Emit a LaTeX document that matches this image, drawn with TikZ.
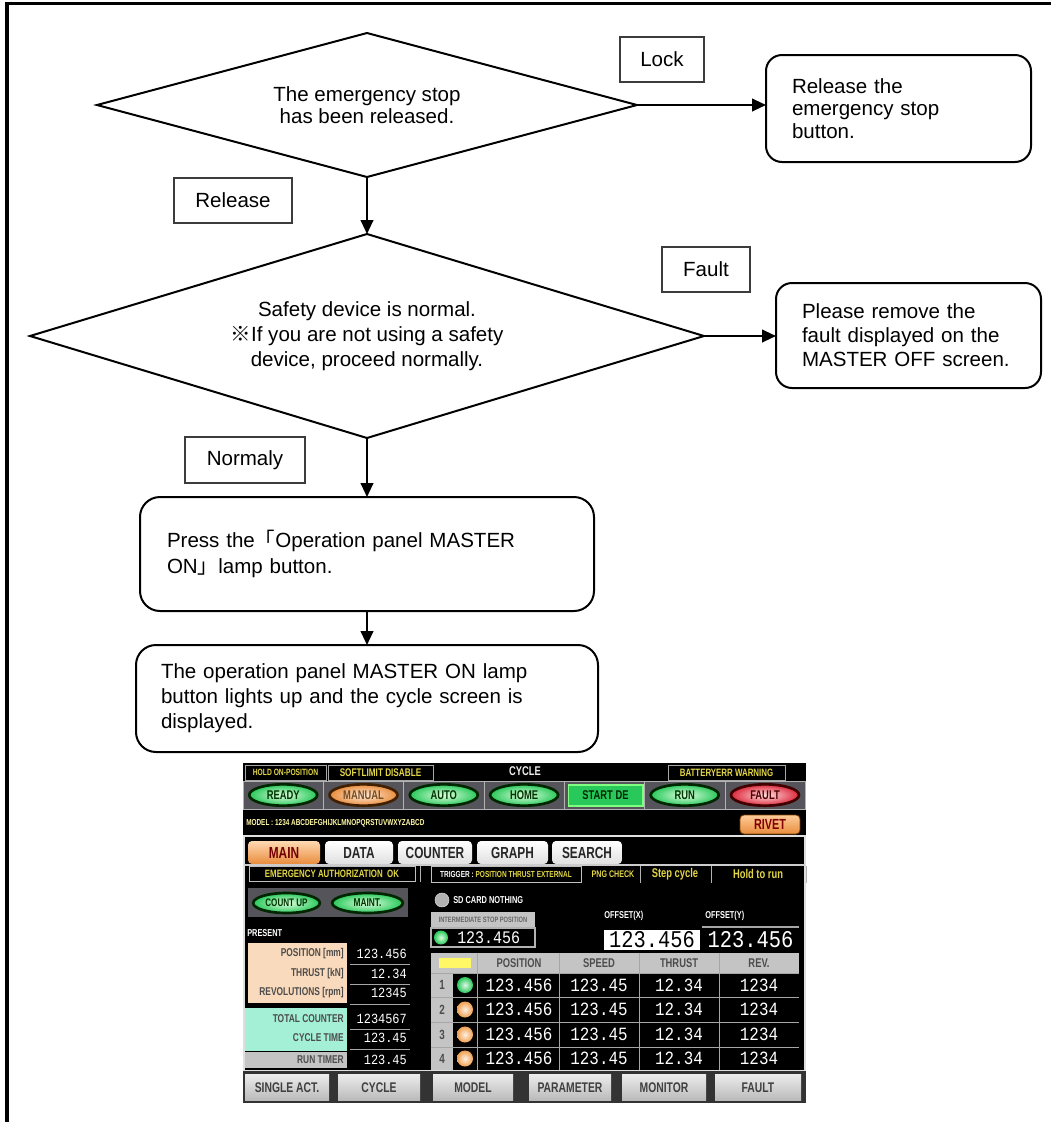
\documentclass[tikz,border=0pt]{standalone}
\usepackage{fontspec}
\setmainfont{Liberation Sans}
\newfontfamily\cjk{Noto Sans CJK JP}
\newfontfamily\scr{Liberation Sans}[FakeStretch=0.74]
\newfontfamily\scrnum{Liberation Mono}[FakeStretch=0.85]
\usetikzlibrary{shapes.geometric,arrows.meta}

\definecolor{lblgray}{RGB}{60,60,60}
\definecolor{cellgray}{RGB}{84,84,90}
\definecolor{hdrgray}{RGB}{196,196,196}
\definecolor{tabgray}{RGB}{224,224,224}
\definecolor{peach}{RGB}{250,218,188}
\definecolor{mint}{RGB}{164,240,214}
\definecolor{scryel}{RGB}{226,214,70}
\definecolor{btngreen}{RGB}{40,200,90}
\definecolor{btnorange}{RGB}{232,140,60}
\definecolor{lamporange}{RGB}{240,160,80}
\definecolor{btnred}{RGB}{220,40,60}

\begin{document}
\begin{tikzpicture}[x=0.75pt,y=0.75pt,yscale=-1,xscale=1,
    flowtxt/.style={font=\fontsize{15.4}{18.75}\selectfont},
    decision/.style={draw,line width=1.5pt,shape=diamond,inner sep=0pt,outer sep=0pt,align=center,flowtxt},
    stepbox/.style={draw,line width=1.5pt,rounded corners=12pt,align=left,inner xsep=19.5pt,inner ysep=0pt,outer sep=0pt,flowtxt},
    answer/.style={draw=lblgray,line width=0.8pt,inner sep=0pt,outer sep=0pt,flowtxt},
    flowarr/.style={line width=1.5pt,-{Triangle[length=10.5pt,width=9.5pt]}},
    stxt/.style={inner sep=0pt,font={\scr\bfseries\fontsize{#1}{#1}\selectfont}},
    snum/.style={inner sep=0pt,text=white,font={\scrnum\fontsize{#1}{#1}\selectfont}},
    lamp/.style={shape=ellipse,inner sep=0pt,minimum width=51pt,minimum height=16pt,line width=2pt,stxt=9.5},
    gbtn/.style={lamp,draw=green!15!black,inner color=green!12!white,outer color=btngreen,text=green!20!black},
    obtn/.style={lamp,draw=orange!25!black,inner color=orange!15!white,outer color=btnorange,text=brown!60!black},
    rbtn/.style={lamp,draw=red!25!black,inner color=red!12!white,outer color=btnred,text=red!30!black},
    tab/.style={rounded corners=3pt,inner sep=0pt,minimum height=17.25pt,stxt=12},
    sbox/.style={draw=gray!70,fill=black,inner sep=0pt,minimum height=11.5pt,text=scryel},
    fkey/.style={inner sep=0pt,minimum height=20pt,top color=gray!15,bottom color=gray!55,text=black!75,stxt=10.5}
  ]
  \useasboundingbox (0,0) rectangle (1051,1122);

  %Straight Lines: frame
  \draw[line width=2.4pt] (7,1122) -- (7,3.5) -- (1051,3.5);

  %Shape: Diamond
  \node[decision,minimum width=405pt,minimum height=108pt,aspect=3.75,font=\fontsize{15.4}{16.5}\selectfont] (stopchk) at (367,105) {The emergency stop\\has been released.};
  % Text Node
  \node[answer,minimum width=63pt,minimum height=33.75pt] (lock) at (662,59.5) {Lock};
  %Rounded Rect
  \node[stepbox,text width=159.75pt,minimum height=80.25pt,font=\fontsize{15.4}{17}\selectfont] (relbtn) at (898.5,108.5) {Release the\\emergency stop\\button.};
  % Text Node
  \node[answer,minimum width=88.5pt,minimum height=33.75pt] (release) at (233,200.5) {Release};

  %Shape: Diamond
  \node[decision,minimum width=505.5pt,minimum height=153pt,aspect=3.3] (safechk) at (367,336) {Safety device is normal.\\{\cjk ※}If you are not using a safety\\device, proceed normally.};
  % Text Node
  \node[answer,minimum width=66pt,minimum height=33.75pt] (fault) at (706,269.5) {Fault};
  %Rounded Rect
  \node[stepbox,text width=159.75pt,minimum height=78.75pt,font=\fontsize{15.4}{18}\selectfont] (faultbox) at (908.5,335.5) {Please remove the\\fault displayed on the\\MASTER OFF screen.};
  % Text Node
  \node[answer,minimum width=90pt,minimum height=34.5pt] (normaly) at (245,460) {Normaly};

  %Rounded Rect
  \node[stepbox,rounded corners=15pt,text width=300pt,inner xsep=20.25pt,minimum height=85.5pt,font=\fontsize{15.4}{20}\selectfont] (pressbtn) at (367,554) {Press the{\cjk 「}Operation panel MASTER\\ON{\cjk 」}lamp button.};
  %Rounded Rect
  \node[stepbox,rounded corners=15pt,text width=309pt,inner xsep=18.75pt,minimum height=80.25pt] (cyclebox) at (367,698.5) {The operation panel MASTER ON lamp\\button lights up and the cycle screen is\\displayed.};

  %Straight Lines
  \draw[flowarr] (stopchk.east) -- (stopchk.east -| relbtn.west);
  \draw[flowarr] (stopchk.south) -- (safechk.north);
  \draw[flowarr] (safechk.east) -- (safechk.east -| faultbox.west);
  \draw[flowarr] (safechk.south) -- (pressbtn.north);
  \draw[flowarr] (pressbtn.south) -- (cyclebox.north);

  %Screen: cycle screen
  \fill[black] (243,763) rectangle (806,1103);
  % status bar
  \node[sbox,minimum width=60.75pt,stxt=6.8] (holdpos) at (285.5,772.5) {HOLD ON-POSITION};
  \node[sbox,minimum width=78.75pt,stxt=8.3] (softlim) at (380.5,772.5) {SOFTLIMIT DISABLE};
  \node[stxt=9.5,text=gray!15] (mode) at (525,771) {CYCLE};
  \node[sbox,minimum width=87.75pt,stxt=8] (battery) at (726.5,772.5) {BATTERYERR WARNING};
  % lamp buttons
  \foreach \i in {0,...,6}
    \draw[draw=gray!60,fill=cellgray] ({243+80.3*\i},781) rectangle ++(80.3,28);
  \node[gbtn] (ready) at (283.2,795) {READY};
  \node[obtn] (manual) at (363.5,795) {MANUAL};
  \node[gbtn] (auto) at (443.8,795) {AUTO};
  \node[gbtn] (home) at (524.1,795) {HOME};
  \node[draw=green!50!white,line width=1pt,fill=btngreen,minimum width=56pt,minimum height=15.75pt,stxt=9.5,text=green!15!black] (startde) at (605.5,795.5) {START DE};
  \node[gbtn] (run) at (684.7,795) {RUN};
  \node[rbtn] (faultlamp) at (765,795) {FAULT};
  % model row
  \node[stxt=6.5,text=yellow!35!white,anchor=west] (model) at (246,823) {MODEL : 1234 ABCDEFGHIJKLMNOPQRSTUVWXYZABCD};
  \node[rounded corners=3pt,top color=orange!40!white,bottom color=btnorange,draw=orange!50!black,line width=0.6pt,minimum width=45pt,minimum height=14.25pt,stxt=11,text=red!50!black] (rivet) at (770,824.5) {RIVET};
  % tabs
  \draw[gray!25,line width=1.2pt] (244,836) rectangle (805,1071);
  \node[tab,top color=orange!30!white,bottom color=btnorange,minimum width=54pt,text=red!45!black] (tabmain) at (284,852.5) {MAIN};
  \foreach \tabtxt/\xc/\w in {DATA/359/51pt,COUNTER/435/55.5pt,GRAPH/512.5/53.25pt,SEARCH/587/52.5pt}
    \node[tab,top color=white,bottom color=tabgray,minimum width=\w,text=black!85] (tab\tabtxt) at (\xc,852.5) {\tabtxt};
  \draw[gray!40,line width=0.8pt] (244,865) -- (805,865);
  % info row
  \node[sbox,draw=gray!50,minimum width=124.5pt,minimum height=11.25pt,stxt=8] (emerg) at (332,873.5) {EMERGENCY AUTHORIZATION\ \ OK};
  \draw[gray!60] (420,866) -- (420,882);
  \node[sbox,draw=gray!50,minimum width=112.5pt,minimum height=12pt,stxt=6.6] (trigger) at (506,874) {\textcolor{white}{TRIGGER :} POSITION THRUST EXTERNAL};
  \node[stxt=7.2,text=scryel] (pngchk) at (613,874) {PNG CHECK};
  \node[stxt=9.5,text=scryel] (stepcyc) at (675,874) {Step cycle};
  \node[stxt=9.5,text=scryel] (holdrun) at (758,874) {Hold to run};
  \foreach \x in {640,711,806} \draw[gray!60] (\x,866) -- (\x,883);
  % count up / maint
  \fill[cellgray] (248,888) rectangle (408,917);
  \node[gbtn,minimum width=50pt,minimum height=15pt,stxt=8.2] (countup) at (286.5,903) {COUNT UP};
  \node[gbtn,minimum width=53pt,minimum height=15pt,stxt=8.5] (maint) at (367.5,903) {MAINT.};
  % present values
  \node[stxt=7.5,text=white,anchor=west] (present) at (247,933) {PRESENT};
  \fill[peach] (248,943) rectangle (347,1003);
  \fill[mint] (245,1008) rectangle (347,1051);
  \fill[hdrgray] (245,1052) rectangle (347,1068);
  \foreach \y in {964,984,1004,1029,1049} \draw[gray!70,line width=0.6pt] (350,\y) -- (410,\y);
  \foreach \y/\lbltxt/\valtxt [count=\n] in {954/POSITION [mm]/123.456,974/THRUST [kN]/12.34,993/REVOLUTIONS [rpm]/12345,1019/TOTAL COUNTER/1234567,1038/CYCLE TIME/123.45,1060/RUN TIMER/123.45}{
    \node[stxt=8.5,text=black!70,anchor=east] (plbl\n) at (344,\y) {\lbltxt};
    \node[snum=10.5,anchor=east] (pval\n) at (407,\y) {\valtxt};
  }
  % sd card / intermediate stop
  \node[circle,draw=gray!30,fill=gray!60,minimum size=10.5pt,inner sep=0pt] (sdlamp) at (442,900) {};
  \node[stxt=7.5,text=white,anchor=west] (sdcard) at (453,900) {SD CARD NOTHING};
  \node[fill=hdrgray,minimum width=78pt,minimum height=12pt,stxt=5.8,text=black!60] (interlbl) at (483,920) {INTERMEDIATE STOP POSITION};
  \draw[gray!60,line width=0.8pt] (431,928) rectangle (535,947);
  \node[circle,minimum size=10.5pt,inner sep=0pt,inner color=green!15!white,outer color=btngreen] (interlamp) at (441,937.5) {};
  \node[snum=13.2,anchor=west] (interval) at (457,938) {123.456};
  % offsets
  \node[stxt=7.5,text=white,anchor=west] (offxlbl) at (604,916) {OFFSET(X)};
  \node[stxt=7.5,text=white,anchor=west] (offylbl) at (705,916) {OFFSET(Y)};
  \draw[gray!70,line width=0.8pt] (702,927) -- (799,927);
  \node[fill=white,minimum width=72pt,minimum height=15pt,snum=18,text=black] (offx) at (652,940) {123.456};
  \node[fill=black,minimum width=72.75pt,minimum height=15pt,snum=18] (offy) at (750.5,940) {123.456};
  % table
  \fill[hdrgray] (431,953) rectangle (799,973);
  \fill[hdrgray] (431,973) rectangle (453,1070);
  \fill[yellow!60!white] (439,958) rectangle (471,968);
  \foreach \y in {973,997,1022,1047} \draw[gray!70,line width=0.6pt] (431,\y) -- (799,\y);
  \foreach \x in {477,559,639,719} \draw[gray!70,line width=0.6pt] (\x,953) -- (\x,1070);
  \foreach \x/\hdtxt [count=\c] in {519/POSITION,599/SPEED,679/THRUST,759/REV.}
    \node[stxt=9.5,text=black!70] (hd\c) at (\x,963) {\hdtxt};
  \foreach \y/\lampc [count=\r] in {985/btngreen,1009.5/lamporange,1034.5/lamporange,1058.5/lamporange}{
    \node[stxt=10,text=black!70] (row\r) at (442,\y) {\r};
    \node[circle,minimum size=12pt,inner sep=0pt,inner color=\lampc!15!white,outer color=\lampc] (lamp\r) at (465,\y) {};
    \node[snum=14] (pos\r) at (519,\y) {123.456};
    \node[snum=14] (spd\r) at (599,\y) {123.45};
    \node[snum=14] (thr\r) at (679,\y) {12.34};
    \node[snum=14] (rev\r) at (759,\y) {1234};
  }
  % function keys
  \fill[black!80] (243,1071) rectangle (806,1103);
  \foreach \xa/\xb/\keytxt [count=\k] in {245/329/SINGLE ACT.,338/420/CYCLE,433/513/MODEL,529/611/PARAMETER,622/706/MONITOR,715/801/FAULT}
    \node[fkey,minimum width={(\xb-\xa)*0.75pt}] (fkey\k) at ({(\xa+\xb)/2},1087.5) {\keytxt};
\end{tikzpicture}
\end{document}
